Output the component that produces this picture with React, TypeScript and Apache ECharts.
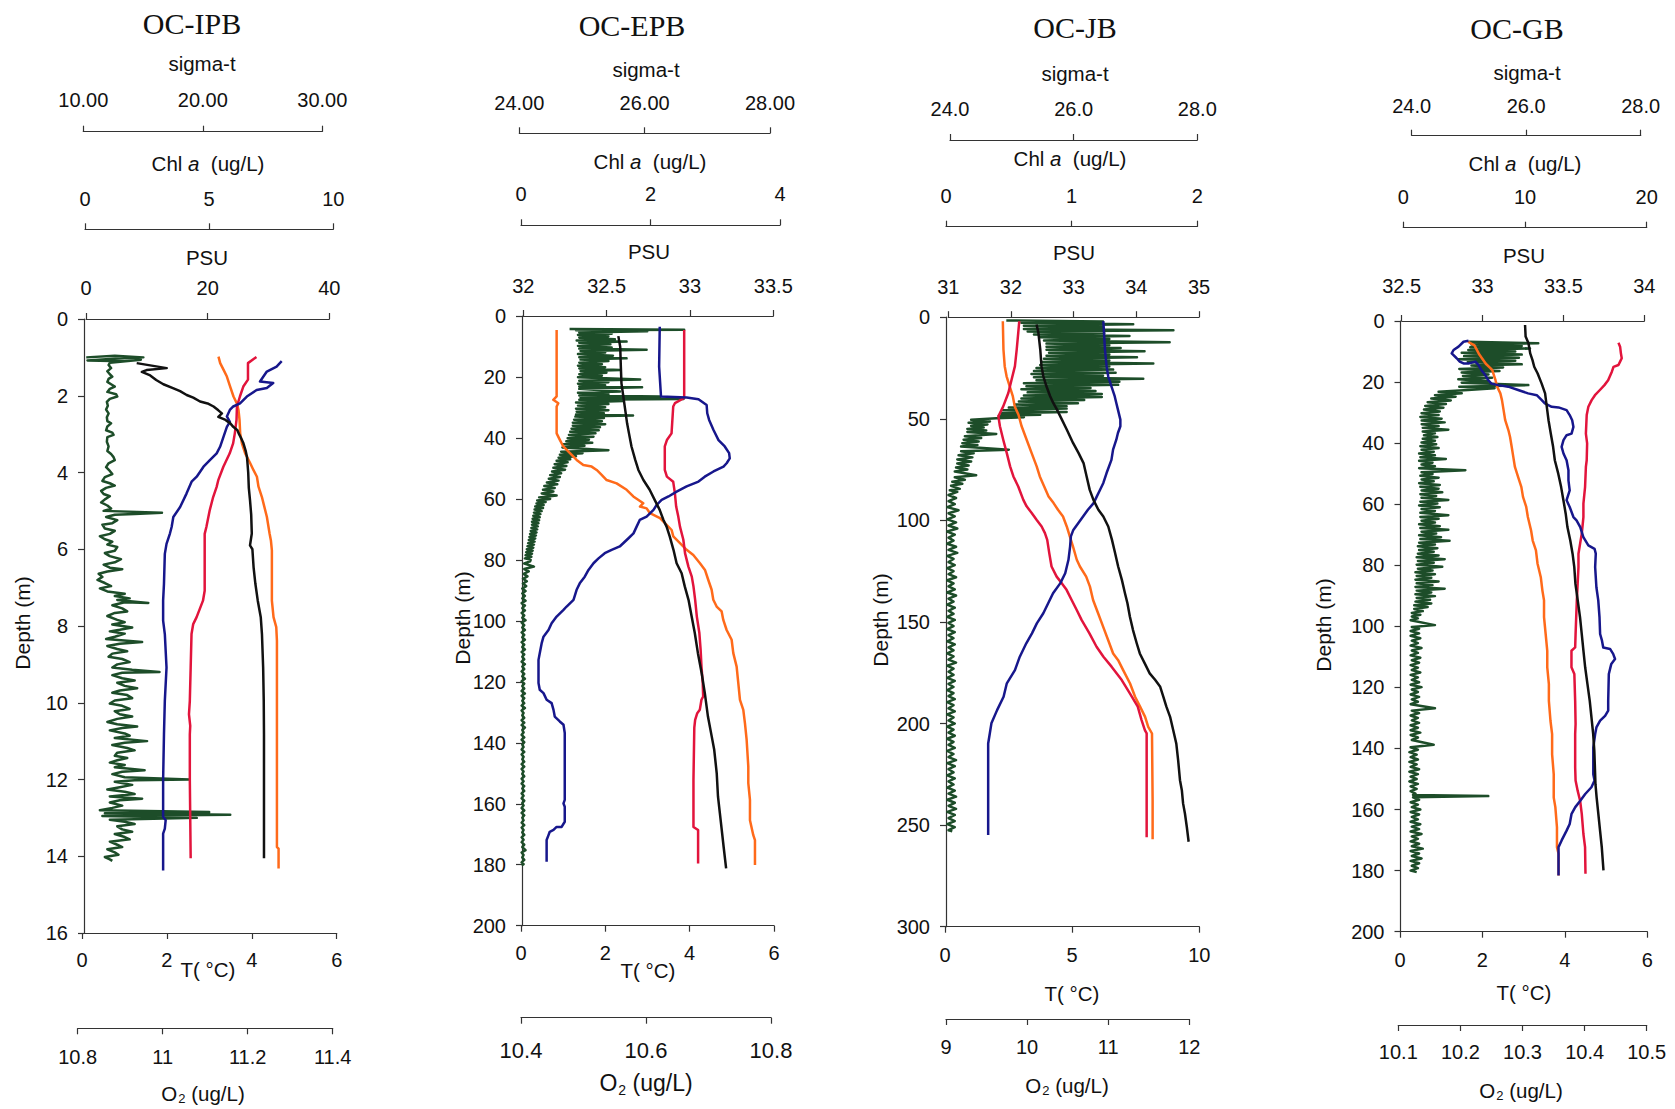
import React, { useEffect, useRef } from 'react';
import * as echarts from 'echarts';

type P = [number, number];

// Each profile is a list of [value, depth (m)] pairs, in cast order.

// ---------- OC-IPB ----------
const ipbSigmaT: P[] = [[14.47,1.15],[16.98,1.28],[15.3,1.33],[14.9,1.38],[15.6,1.47],[16.1,1.59],[16.7,1.7],[17.5,1.8],[18.1,1.88],[18.65,1.98],[19.2,2.05],[19.77,2.15],[20.4,2.2],[20.9,2.28],[21.3,2.38],[21.6,2.46],[21.3,2.55],[21.9,2.63],[22.3,2.72],[22.55,2.81],[22.9,2.9],[23.0,2.98],[23.2,3.1],[23.4,3.24],[23.6,3.45],[23.7,3.6],[23.8,4.0],[23.85,4.4],[23.95,4.72],[24.05,5.1],[24.1,5.59],[23.95,5.9],[24.15,6.0],[24.25,6.47],[24.4,6.9],[24.6,7.34],[24.85,7.77],[24.95,8.21],[25.05,9.08],[25.1,9.95],[25.12,10.82],[25.12,11.69],[25.12,12.5],[25.12,14.05]];
const ipbTemp: P[] = [[4.11,0.99],[3.91,1.15],[3.91,1.58],[3.8,1.76],[3.72,2.02],[3.65,2.28],[3.64,2.63],[3.6,2.98],[3.56,3.24],[3.48,3.5],[3.33,3.85],[3.21,4.2],[3.17,4.38],[3.09,4.64],[3.01,4.98],[2.93,5.42],[2.89,5.6],[2.89,7.08],[2.85,7.34],[2.7,7.77],[2.62,7.95],[2.58,8.21],[2.56,9.08],[2.54,9.95],[2.52,10.3],[2.55,10.6],[2.54,10.82],[2.54,12.0],[2.56,14.05]];
const ipbSalinity: P[] = [[21.78,0.98],[22.06,1.15],[22.6,1.32],[23.16,1.5],[23.7,1.76],[24.25,2.02],[24.8,2.2],[25.07,2.37],[25.24,2.63],[25.35,2.98],[25.63,3.24],[26.17,3.5],[27.0,3.76],[27.54,3.94],[28.1,4.11],[28.36,4.37],[28.92,4.64],[29.19,4.81],[29.74,5.16],[30.18,5.59],[30.4,5.77],[30.56,6.03],[30.56,7.34],[30.83,7.77],[31.28,8.03],[31.39,8.38],[31.39,13.76],[31.66,13.8],[31.66,14.32]];
const ipbOxygen: P[] = [[11.28,1.1],[11.268,1.24],[11.245,1.37],[11.229,1.63],[11.26,1.67],[11.245,1.8],[11.221,1.85],[11.198,2.02],[11.182,2.2],[11.166,2.28],[11.158,2.37],[11.151,2.54],[11.158,2.68],[11.151,2.81],[11.143,3.07],[11.135,3.33],[11.127,3.5],[11.111,3.68],[11.096,3.85],[11.08,4.11],[11.068,4.24],[11.056,4.55],[11.041,4.9],[11.025,5.16],[11.021,5.42],[11.017,5.59],[11.009,5.86],[11.005,6.12],[11.003,6.9],[11.001,7.34],[11.001,7.86],[11.005,8.21],[11.009,9.08],[11.005,9.95],[11.003,10.82],[11.001,12.0],[11.001,12.97],[11.007,13.06],[11.005,13.28],[11.001,13.41],[11.001,14.37]];
const ipbChl: P[] = [[0.05,1.0],[1.2,0.96],[2.35,1.0],[1.0,1.04],[0.1,1.08],[1.6,1.1],[2.25,1.06],[1.0,1.14],[0.95,1.2],[1.05,1.28],[0.9,1.36],[1.0,1.44],[1.1,1.5],[0.95,1.56],[0.9,1.64],[1.05,1.7],[1.2,1.76],[1.0,1.82],[0.9,1.9],[1.25,1.96],[1.3,2.02],[1.0,2.08],[0.88,2.16],[0.92,2.26],[0.85,2.36],[0.95,2.46],[0.88,2.56],[0.9,2.66],[1.05,2.72],[0.9,2.8],[0.85,2.9],[1.1,2.96],[1.15,3.02],[0.9,3.08],[0.88,3.2],[0.95,3.32],[0.9,3.44],[1.05,3.52],[1.15,3.6],[1.2,3.68],[0.95,3.76],[0.85,3.86],[1.0,3.96],[1.1,4.04],[0.8,4.12],[0.7,4.22],[1.0,4.28],[1.2,4.34],[0.85,4.4],[0.65,4.48],[0.75,4.56],[1.0,4.62],[0.8,4.7],[0.65,4.78],[0.9,4.86],[1.05,4.94],[0.75,5.0],[3.1,5.05],[2.0,5.08],[1.2,5.1],[0.85,5.16],[1.3,5.24],[1.1,5.32],[0.7,5.36],[0.8,5.46],[1.2,5.52],[1.0,5.6],[0.6,5.66],[0.8,5.74],[1.1,5.8],[0.9,5.88],[1.3,5.94],[1.2,6.04],[0.8,6.1],[1.0,6.18],[1.45,6.26],[1.2,6.34],[0.75,6.4],[1.0,6.48],[1.5,6.52],[0.9,6.58],[0.55,6.64],[0.7,6.72],[0.5,6.8],[0.8,6.88],[1.05,6.96],[0.6,7.02],[0.9,7.1],[1.6,7.16],[1.2,7.22],[1.8,7.28],[1.3,7.32],[2.55,7.4],[1.6,7.38],[1.1,7.46],[1.5,7.54],[1.7,7.62],[1.2,7.66],[0.9,7.74],[1.3,7.84],[1.6,7.9],[1.1,7.96],[1.9,8.04],[1.4,8.1],[1.0,8.14],[1.6,8.2],[1.2,8.28],[0.85,8.34],[2.3,8.42],[1.4,8.46],[0.9,8.52],[1.3,8.6],[1.7,8.66],[1.1,8.72],[0.95,8.8],[1.5,8.86],[1.8,8.94],[1.3,9.0],[1.1,9.08],[1.9,9.14],[3.0,9.2],[1.5,9.22],[1.1,9.28],[1.5,9.36],[2.0,9.42],[1.3,9.48],[1.6,9.56],[2.1,9.62],[1.4,9.68],[1.1,9.74],[1.7,9.8],[1.9,9.88],[1.2,9.94],[1.0,10.02],[1.5,10.08],[1.8,10.16],[1.2,10.22],[1.4,10.3],[1.9,10.36],[1.3,10.42],[0.9,10.5],[1.3,10.56],[2.1,10.62],[1.5,10.66],[1.0,10.72],[1.6,10.8],[1.8,10.86],[1.2,10.92],[2.5,11.0],[1.6,11.04],[1.1,11.1],[1.7,11.18],[2.0,11.24],[1.3,11.3],[1.2,11.38],[1.7,11.44],[1.3,11.5],[1.0,11.56],[1.6,11.62],[1.2,11.68],[2.4,11.76],[1.5,11.8],[1.1,11.86],[1.6,11.94],[4.2,12.0],[2.0,12.02],[1.2,12.06],[1.9,12.14],[1.4,12.2],[0.9,12.26],[1.6,12.32],[2.0,12.38],[1.0,12.44],[2.3,12.5],[1.4,12.54],[1.0,12.6],[1.5,12.68],[1.1,12.74],[0.6,12.8],[5.0,12.85],[0.8,12.88],[5.85,12.92],[0.7,12.95],[4.5,13.0],[1.0,13.05],[1.6,13.1],[2.0,13.16],[1.3,13.22],[1.5,13.3],[1.9,13.36],[1.2,13.42],[1.6,13.5],[1.8,13.56],[1.0,13.62],[1.3,13.7],[1.5,13.76],[0.9,13.82],[1.2,13.9],[1.35,13.96],[0.8,14.02],[1.0,14.08],[1.1,14.12]];

// ---------- OC-EPB ----------
const epbSigmaT: P[] = [[25.58,6.6],[25.61,10.1],[25.62,16.6],[25.63,22.1],[25.66,26.4],[25.69,30.8],[25.72,35.2],[25.75,38.5],[25.79,42.8],[25.85,47.2],[25.9,50.5],[25.98,53.8],[26.08,57.0],[26.16,60.3],[26.24,63.6],[26.3,66.9],[26.35,69.1],[26.4,72.3],[26.46,76.7],[26.51,81.1],[26.59,84.4],[26.64,88.7],[26.7,93.1],[26.75,98.6],[26.8,104],[26.85,110.6],[26.91,117.2],[26.96,123.7],[27.01,131.4],[27.07,137.9],[27.11,142.3],[27.15,150],[27.17,157.6],[27.2,163.1],[27.23,168.6],[27.26,174.1],[27.3,181.2]];
const epbTemp: P[] = [[3.87,4.6],[3.87,26.9],[3.65,28.6],[3.61,29.7],[3.57,38.5],[3.46,40.7],[3.41,42.8],[3.41,50.5],[3.46,52.7],[3.61,54.4],[3.65,58.2],[3.68,62.5],[3.73,65.8],[3.77,69.1],[3.85,73.4],[3.89,77.8],[3.97,82.2],[4.05,85.5],[4.09,88.7],[4.13,93.1],[4.17,98.6],[4.23,104],[4.26,109.5],[4.28,115],[4.31,120.4],[4.32,124.8],[4.28,125.9],[4.24,129.2],[4.18,130.3],[4.13,132.5],[4.11,135],[4.09,152],[4.09,167.6],[4.2,168.6],[4.2,179.6]];
const epbSalinity: P[] = [[32.2,4.6],[32.2,26.4],[32.18,27.5],[32.21,28.6],[32.2,29.7],[32.2,38.5],[32.22,40.7],[32.24,42.8],[32.28,45.0],[32.32,47.2],[32.36,48.9],[32.41,49.4],[32.44,50.5],[32.47,52.1],[32.5,53.8],[32.56,54.9],[32.62,57.0],[32.66,59.2],[32.72,61.4],[32.7,62.5],[32.74,63.1],[32.76,64.7],[32.82,66.3],[32.86,68.5],[32.89,70.2],[32.9,72.3],[32.94,74.5],[32.98,76.7],[33.02,78.4],[33.06,81.1],[33.09,83.3],[33.11,86.6],[33.13,89.8],[33.14,93.1],[33.16,95.3],[33.19,96.9],[33.2,99.7],[33.22,103],[33.25,106.2],[33.26,110.6],[33.28,115],[33.29,120.4],[33.3,125.9],[33.32,129.2],[33.33,133.6],[33.34,139],[33.35,147.8],[33.35,153.2],[33.36,158.7],[33.36,165.4],[33.38,170.3],[33.39,171.9],[33.39,180.1]];
const epbOxygen: P[] = [[10.622,3.5],[10.621,16.6],[10.624,26.4],[10.665,26.7],[10.684,27.3],[10.697,29.2],[10.698,31.9],[10.701,34.1],[10.708,37.4],[10.716,40.7],[10.726,42.8],[10.733,45.0],[10.734,46.7],[10.729,48.3],[10.724,49.4],[10.708,51.0],[10.694,52.7],[10.684,54.3],[10.665,55.9],[10.649,57.6],[10.636,59.2],[10.625,60.3],[10.617,62.0],[10.612,63.6],[10.601,65.8],[10.59,66.9],[10.585,69.1],[10.58,71.3],[10.572,72.9],[10.558,75.6],[10.545,76.7],[10.534,77.8],[10.524,79.5],[10.516,81.1],[10.508,83.3],[10.502,85.5],[10.494,87.7],[10.489,89.8],[10.484,93.1],[10.473,95.3],[10.468,96.4],[10.457,98.6],[10.449,100.8],[10.444,103.0],[10.436,105.2],[10.433,107.4],[10.43,110.6],[10.428,112.8],[10.428,120.4],[10.43,122.6],[10.436,123.7],[10.441,125.9],[10.449,127.0],[10.452,129.2],[10.454,131.4],[10.462,133.0],[10.468,134.1],[10.47,136.8],[10.47,158.7],[10.468,159.9],[10.47,161.0],[10.47,165.9],[10.465,167.6],[10.457,167.6],[10.452,168.6],[10.446,169.2],[10.444,170.3],[10.441,171.9],[10.441,179.0]];
const epbChl: P[] = [[0.75,4.3],[2.52,4.5],[0.85,4.7],[1.95,5.0],[0.9,5.4],[1.4,5.8],[0.88,6.2],[1.35,6.7],[0.9,7.1],[1.45,7.6],[0.86,8.0],[1.63,8.4],[0.9,8.8],[1.38,9.3],[0.88,9.8],[1.4,10.3],[0.9,10.7],[1.94,11.1],[0.92,11.5],[1.3,12.0],[0.88,12.5],[1.42,13.0],[0.9,13.5],[1.63,13.9],[0.92,14.3],[1.35,14.8],[0.9,15.3],[1.25,15.8],[0.88,16.3],[1.3,16.8],[0.9,17.2],[1.53,17.7],[0.92,18.1],[1.32,18.6],[0.9,19.1],[1.25,19.6],[0.88,20.1],[1.84,20.8],[0.9,21.2],[1.35,21.7],[0.88,22.2],[1.3,22.7],[0.9,23.1],[1.87,23.4],[0.9,23.9],[1.53,24.8],[0.88,25.2],[1.35,25.7],[0.9,26.1],[2.15,26.4],[0.92,26.8],[2.51,27.2],[0.9,27.5],[1.58,27.9],[0.85,28.4],[1.35,28.9],[0.88,29.4],[1.3,29.9],[0.85,30.4],[1.35,30.9],[0.86,31.4],[1.28,31.9],[0.85,32.3],[1.73,32.6],[0.84,33.0],[1.28,33.5],[0.82,34.0],[1.25,34.5],[0.8,35.0],[1.3,35.5],[0.8,36.0],[1.22,36.5],[0.78,37.0],[1.2,37.5],[0.76,38.0],[1.15,38.5],[0.74,39.0],[1.12,39.6],[0.72,40.1],[1.05,40.6],[0.7,41.1],[1.1,41.6],[0.66,42.1],[0.98,42.6],[0.64,43.1],[1.35,44.0],[0.62,44.5],[0.95,45.0],[0.6,45.5],[0.85,46.0],[0.58,46.5],[0.76,47.0],[0.55,47.5],[0.72,48.0],[0.52,48.6],[0.7,49.2],[0.5,49.8],[0.68,50.4],[0.48,51.0],[0.62,51.6],[0.45,52.2],[0.6,52.8],[0.43,53.4],[0.58,54.0],[0.4,54.6],[0.56,55.2],[0.36,55.8],[0.52,56.4],[0.34,57.0],[0.5,57.6],[0.32,58.2],[0.55,58.9],[0.28,59.5],[0.45,60.0],[0.25,60.5],[0.38,61.0],[0.24,61.5],[0.35,62.0],[0.22,62.5],[0.34,63.0],[0.21,63.5],[0.32,64.0],[0.2,64.5],[0.3,65.0],[0.19,65.5],[0.29,66.0],[0.18,66.5],[0.28,67.0],[0.17,67.5],[0.27,68.0],[0.17,68.5],[0.26,69.0],[0.16,69.5],[0.25,70.0],[0.15,70.5],[0.24,71.0],[0.14,71.5],[0.23,72.0],[0.13,72.5],[0.22,73.0],[0.12,73.5],[0.21,74.0],[0.11,74.5],[0.2,75.0],[0.1,75.5],[0.19,76.0],[0.09,76.5],[0.18,77.0],[0.08,77.5],[0.17,78.0],[0.07,78.5],[0.16,79.0],[0.06,79.5],[0.15,80.0],[0.14,80.5],[0.05,81.2],[0.2,82.2],[0.05,83.0],[0.12,83.8],[0.04,84.6],[0.1,85.4],[0.03,86.2],[0.09,87.0],[0.03,87.8],[0.08,88.6],[0.02,89.4],[0.07,90.2],[0.02,91.0],[0.06,91.8],[0.02,92.6],[0.07,93.4],[0.01,94.2],[0.06,95.0],[0.02,95.8],[0.06,96.6],[0.01,97.4],[0.05,98.2],[0.02,99.0],[0.07,99.8],[0.01,100.6],[0.05,101.4],[0.02,102.2],[0.06,103.0],[0.01,103.8],[0.05,104.6],[0.02,105.4],[0.06,106.2],[0.01,107.0],[0.05,107.8],[0.02,108.6],[0.06,109.4],[0.01,110.2],[0.05,111.0],[0.02,111.8],[0.05,112.6],[0.01,113.4],[0.06,114.2],[0.02,115.0],[0.05,115.8],[0.01,116.6],[0.05,117.4],[0.02,118.2],[0.06,119.0],[0.01,119.8],[0.05,120.6],[0.02,121.4],[0.05,122.2],[0.01,123.0],[0.06,123.8],[0.01,124.6],[0.05,125.4],[0.02,126.2],[0.05,127.0],[0.01,127.8],[0.06,128.6],[0.01,129.4],[0.04,130.2],[0.02,131.0],[0.05,131.8],[0.01,132.6],[0.05,133.4],[0.01,134.2],[0.06,135.0],[0.02,135.8],[0.04,136.6],[0.01,137.4],[0.05,138.2],[0.01,139.0],[0.05,139.8],[0.02,140.6],[0.04,141.4],[0.01,142.2],[0.05,143.0],[0.01,143.8],[0.04,144.6],[0.02,145.4],[0.05,146.2],[0.01,147.0],[0.05,147.8],[0.01,148.6],[0.04,149.4],[0.02,150.2],[0.05,151.0],[0.01,151.8],[0.04,152.6],[0.01,153.4],[0.05,154.2],[0.02,155.0],[0.05,155.8],[0.01,156.6],[0.04,157.4],[0.01,158.2],[0.05,159.0],[0.02,159.8],[0.04,160.6],[0.01,161.4],[0.05,162.2],[0.01,163.0],[0.05,163.8],[0.02,164.6],[0.04,165.4],[0.01,166.2],[0.05,167.0],[0.01,167.8],[0.04,168.6],[0.02,169.4],[0.05,170.2],[0.01,171.0],[0.04,171.8],[0.01,172.6],[0.05,173.4],[0.02,174.2],[0.07,175.2],[0.01,176.0],[0.04,176.8],[0.02,177.6],[0.05,178.4],[0.01,179.2],[0.04,179.8],[0.01,180.2]];

// ---------- OC-JB ----------
const jbSigmaT: P[] = [[25.4,3.6],[25.43,7.7],[25.46,15.9],[25.48,24.1],[25.51,29.1],[25.56,34.0],[25.62,38.9],[25.67,42.2],[25.73,45.5],[25.81,50.4],[25.89,55.4],[25.99,61.9],[26.08,66.9],[26.16,71.8],[26.21,78.4],[26.26,85.0],[26.32,89.9],[26.4,94.8],[26.48,98.1],[26.56,103],[26.62,109.6],[26.67,116.1],[26.72,122.7],[26.78,129.3],[26.83,135.9],[26.87,140.8],[26.91,147.4],[26.96,154],[27.02,160.5],[27.07,165.5],[27.15,170.4],[27.23,175.3],[27.32,178.6],[27.4,181.9],[27.45,186.8],[27.5,191.7],[27.56,196.7],[27.61,203.2],[27.66,209.8],[27.69,218],[27.72,227.9],[27.75,232.8],[27.77,239.3],[27.8,244.3],[27.83,250.8],[27.86,258.2]];
const jbTemp: P[] = [[2.92,2.0],[2.88,7.7],[2.82,15.9],[2.75,24.1],[2.62,30.7],[2.49,37.3],[2.29,43.9],[2.1,48.8],[2.16,53.7],[2.29,60.3],[2.43,66.9],[2.56,73.4],[2.69,78.4],[2.88,83.3],[3.08,89.9],[3.21,93.1],[3.41,96.4],[3.6,99.7],[3.8,103],[3.93,106.3],[4.02,109.6],[4.1,116.1],[4.19,122.7],[4.39,127.7],[4.59,130.9],[4.78,134.2],[4.98,139.2],[5.18,144.1],[5.37,149],[5.68,155.6],[5.96,162.2],[6.23,167.1],[6.55,172],[6.95,178.6],[7.27,185.2],[7.58,191.7],[7.73,198.3],[7.86,203.2],[7.93,204.8],[7.93,237.7],[7.93,256]];
const jbSalinity: P[] = [[31.87,2.0],[31.88,15.9],[31.9,24.1],[31.93,29.1],[31.98,34.0],[32.03,39.0],[32.06,43.9],[32.12,48.0],[32.17,53.7],[32.25,60.3],[32.33,66.9],[32.41,73.4],[32.46,78.4],[32.53,83.3],[32.6,88.2],[32.68,91.5],[32.75,94.8],[32.83,98.1],[32.89,103],[32.94,108],[32.99,112.9],[33.05,119.4],[33.1,122.7],[33.2,127.7],[33.26,132.6],[33.31,139.2],[33.39,145.7],[33.47,152.3],[33.55,158.9],[33.63,165.5],[33.71,168.8],[33.79,173.7],[33.9,180.3],[33.98,186.8],[34.06,191.7],[34.14,196.7],[34.19,201.6],[34.25,204.9],[34.26,237.7],[34.26,257]];
const jbOxygen: P[] = [[10.94,2.0],[10.96,15.9],[10.98,24.1],[11.0,29.1],[11.04,34.0],[11.08,38.9],[11.1,42.2],[11.12,45.5],[11.15,50.4],[11.15,53.7],[11.12,57.0],[11.1,60.3],[11.06,65.2],[11.04,70.2],[10.98,76.7],[10.94,81.6],[10.9,84.9],[10.86,88.2],[10.82,91.5],[10.75,94.8],[10.69,98.1],[10.63,101.4],[10.57,104.7],[10.54,107.9],[10.53,112.9],[10.51,119.4],[10.47,126],[10.41,130.9],[10.32,135.9],[10.26,140.8],[10.2,145.7],[10.12,150.7],[10.06,155.6],[9.99,160.5],[9.91,167.1],[9.85,173.7],[9.75,180.2],[9.71,186.8],[9.63,193.4],[9.56,199.9],[9.54,204.9],[9.52,209.8],[9.52,237.7],[9.52,254.9]];
const jbChl: P[] = [[0.48,1.6],[1.25,2.1],[0.6,2.7],[1.49,3.5],[0.62,4.2],[1.25,5.0],[0.62,5.8],[1.81,6.4],[0.65,7.0],[1.26,7.8],[0.7,8.5],[1.46,9.2],[0.75,9.9],[1.3,10.7],[0.78,11.5],[1.78,12.3],[0.8,13.0],[1.3,13.8],[0.8,14.5],[1.39,15.2],[0.8,16.0],[1.58,16.7],[0.82,17.5],[1.3,18.3],[0.8,19.0],[1.52,19.7],[0.78,20.5],[1.3,21.3],[0.76,22.0],[1.65,22.8],[0.75,23.5],[1.3,24.3],[0.72,25.0],[1.33,25.8],[0.7,26.5],[1.35,27.3],[0.68,28.0],[1.25,28.8],[0.7,29.5],[1.57,30.3],[0.72,31.0],[1.38,31.8],[0.62,32.5],[1.37,33.3],[0.64,34.0],[1.15,34.8],[0.6,35.5],[1.19,36.3],[0.65,37.0],[1.24,37.8],[0.62,38.5],[1.24,39.3],[0.6,40.0],[1.1,40.8],[0.58,41.5],[1.05,42.3],[0.55,43.0],[0.96,43.8],[0.5,44.5],[0.96,45.0],[0.45,45.8],[0.96,46.6],[0.44,47.3],[0.75,48.0],[0.42,48.5],[0.62,49.2],[0.4,49.7],[0.2,50.5],[0.35,51.3],[0.18,52.0],[0.33,52.8],[0.2,53.5],[0.3,54.3],[0.17,55.0],[0.32,55.8],[0.17,56.5],[0.4,57.5],[0.15,58.6],[0.28,59.5],[0.14,60.3],[0.26,61.2],[0.13,62.0],[0.25,62.9],[0.12,63.7],[0.5,65.2],[0.12,66.0],[0.22,67.0],[0.1,68.0],[0.21,69.0],[0.09,70.0],[0.2,71.0],[0.09,72.0],[0.18,73.0],[0.08,74.0],[0.17,75.0],[0.07,76.0],[0.24,77.8],[0.07,78.8],[0.15,80.0],[0.05,81.0],[0.13,82.0],[0.04,83.0],[0.11,84.5],[0.03,85.2],[0.09,86],[0.02,87.5],[0.08,89],[0.02,90.5],[0.07,92],[0.01,93.5],[0.1,95],[0.02,96.5],[0.07,98],[0.01,99.5],[0.08,101],[0.02,102.5],[0.09,104],[0.01,105.5],[0.07,107],[0.02,108.5],[0.06,110],[0.01,111.5],[0.08,113],[0.02,114.5],[0.09,116],[0.01,117.5],[0.06,119],[0.02,120.5],[0.07,122],[0.01,123.5],[0.06,125],[0.02,126.5],[0.08,128],[0.01,129.5],[0.06,131],[0.02,132.5],[0.07,134],[0.01,135.5],[0.08,137],[0.02,138.5],[0.06,140],[0.01,141.5],[0.07,143],[0.02,144.5],[0.06,146],[0.01,147.5],[0.07,149],[0.02,150.5],[0.06,152],[0.01,153.5],[0.07,155],[0.02,156.5],[0.06,158],[0.01,159.5],[0.07,161],[0.02,162.5],[0.06,164],[0.01,165.5],[0.06,167],[0.02,168.5],[0.08,170],[0.01,171.5],[0.06,173],[0.02,174.5],[0.06,176],[0.01,177.5],[0.07,179],[0.02,180.5],[0.06,182],[0.01,183.5],[0.06,185],[0.02,186.5],[0.07,188],[0.01,189.5],[0.06,191],[0.02,192.5],[0.07,194],[0.01,195.5],[0.06,197],[0.02,198.5],[0.07,200],[0.01,201.5],[0.06,203],[0.02,204.5],[0.07,206],[0.01,207.5],[0.06,209],[0.02,210.5],[0.07,212],[0.01,213.5],[0.06,215],[0.02,216.5],[0.08,218],[0.01,219.5],[0.07,221],[0.02,222.5],[0.06,224],[0.01,225.5],[0.07,227],[0.02,228.5],[0.06,230],[0.01,231.5],[0.07,233],[0.02,234.5],[0.08,236],[0.01,237.5],[0.07,239],[0.02,240.5],[0.08,242],[0.01,243.5],[0.07,245],[0.02,246.5],[0.07,248],[0.01,249.5],[0.07,251],[0.02,252.5],[0.05,253]];

// ---------- OC-GB ----------
const gbSigmaT: P[] = [[25.98,1.3],[25.99,5.1],[26.04,7.3],[26.07,10.6],[26.11,12.8],[26.14,15],[26.2,17.2],[26.27,20.5],[26.33,23.7],[26.36,28.1],[26.39,32.5],[26.43,36.9],[26.47,41.2],[26.5,45.6],[26.56,50],[26.61,54.4],[26.65,58.7],[26.69,63.1],[26.72,67.5],[26.77,71.9],[26.81,76.2],[26.84,80.6],[26.86,86.1],[26.9,91.5],[26.94,97],[26.97,102.5],[27.0,108],[27.03,113.4],[27.07,118.9],[27.11,124.4],[27.14,129.8],[27.17,135.3],[27.19,140.8],[27.2,146.2],[27.21,151.7],[27.23,156],[27.26,161.4],[27.29,166.9],[27.32,172.3],[27.35,179.9]];
const gbTemp: P[] = [[5.3,7.1],[5.34,8.4],[5.36,10.6],[5.38,12.2],[5.34,13.3],[5.3,14.4],[5.18,15.0],[5.14,16.6],[5.05,19.4],[4.96,21.0],[4.85,22.6],[4.73,24.3],[4.65,25.9],[4.57,28.1],[4.53,30.8],[4.51,36.9],[4.54,40.1],[4.53,45.6],[4.51,47.8],[4.49,54.4],[4.45,59.8],[4.45,64.2],[4.41,69.7],[4.37,72.9],[4.33,76.2],[4.33,80.6],[4.31,86.1],[4.29,91.5],[4.26,102.5],[4.25,106.9],[4.16,108],[4.16,113.4],[4.23,115.6],[4.25,124.4],[4.26,132],[4.25,135.3],[4.25,146.2],[4.26,150.5],[4.31,153.8],[4.37,157.1],[4.41,161.4],[4.45,168],[4.49,172.3],[4.5,181]];
const gbSalinity: P[] = [[32.91,6.8],[32.95,8],[32.98,11],[33.02,14],[33.05,15.5],[33.06,16.1],[33.07,17.7],[33.08,19.4],[33.09,21.5],[33.11,23.7],[33.12,25.9],[33.13,29.2],[33.14,32.5],[33.16,35.8],[33.17,38.0],[33.18,41.2],[33.19,44.5],[33.2,47.8],[33.22,51.1],[33.24,54.4],[33.25,57.6],[33.27,60.9],[33.28,64.2],[33.3,68.6],[33.31,71.9],[33.33,75.1],[33.34,79.5],[33.36,83.9],[33.37,88.3],[33.38,91.5],[33.38,97],[33.39,102.5],[33.4,108],[33.4,113.4],[33.41,118.9],[33.41,124.4],[33.42,131],[33.43,135.3],[33.43,141.9],[33.44,148.4],[33.44,156.1],[33.45,159.2],[33.46,165.8],[33.46,172.3],[33.47,174.5],[33.47,181.6]];
const gbOxygen: P[] = [[10.213,6.5],[10.205,6.8],[10.197,8.4],[10.189,9.5],[10.186,10.6],[10.194,12.2],[10.199,13.3],[10.205,13.9],[10.213,13.9],[10.224,13.3],[10.229,14.4],[10.234,16.1],[10.24,17.7],[10.245,19.4],[10.25,20.5],[10.261,21.0],[10.277,21.5],[10.293,22.6],[10.309,23.7],[10.323,24.3],[10.331,25.9],[10.336,27],[10.347,28.1],[10.358,28.3],[10.371,29.2],[10.376,30.8],[10.38,32.5],[10.382,34.7],[10.379,36.9],[10.371,37.4],[10.366,39],[10.363,41.2],[10.366,43.4],[10.371,45.6],[10.374,48.9],[10.374,52.2],[10.376,55.5],[10.371,58.7],[10.376,60.9],[10.382,64.2],[10.387,65.3],[10.393,67.5],[10.398,70.8],[10.406,73.5],[10.416,74.6],[10.418,76.2],[10.417,80.6],[10.419,87.2],[10.422,91.5],[10.424,97],[10.425,102.5],[10.428,104.7],[10.43,106.9],[10.441,107.4],[10.446,109],[10.449,110.7],[10.443,112.3],[10.439,115.6],[10.438,124.4],[10.438,127.6],[10.433,129.3],[10.425,130.9],[10.419,133.1],[10.417,135.3],[10.414,139.7],[10.414,148.4],[10.416,150.5],[10.411,152.7],[10.401,154.9],[10.393,157.1],[10.385,159.2],[10.379,161.4],[10.376,164.7],[10.371,166.9],[10.363,170.1],[10.358,172.3],[10.358,181.6]];
const gbChl: P[] = [[5.34,6.8],[11.09,7.3],[5.6,7.7],[9.73,8.2],[5.5,8.6],[10.41,9.0],[5.34,9.5],[9.2,10.0],[4.8,10.4],[9.73,11.0],[5.0,11.5],[9.5,12.0],[4.52,12.5],[9.2,13.0],[5.3,13.4],[9.73,14.2],[5.6,14.6],[8.2,15.2],[4.6,15.7],[7.9,16.4],[4.8,16.9],[7.0,17.5],[4.9,18.0],[7.3,18.6],[4.52,19.1],[7.0,19.7],[4.8,20.2],[10.27,21.0],[4.6,21.5],[7.5,22.0],[5.3,22.6],[2.9,23.2],[4.8,23.7],[2.6,24.3],[4.3,24.8],[2.3,25.4],[3.9,26.0],[2.0,26.6],[3.5,27.2],[1.8,27.8],[3.3,28.4],[1.7,29.0],[3.0,29.6],[1.5,30.2],[2.9,30.8],[1.4,31.4],[3.15,32.0],[1.51,32.6],[3.4,33.2],[1.51,33.8],[2.9,34.4],[1.6,35.0],[3.7,35.6],[1.6,36.2],[2.6,36.8],[1.7,37.4],[2.8,38.0],[1.6,38.6],[2.6,39.2],[1.5,39.8],[2.7,40.4],[1.4,41.0],[2.9,41.6],[1.5,42.2],[2.5,42.8],[1.3,43.4],[2.6,44.0],[1.4,44.6],[3.5,45.2],[1.3,45.8],[2.4,46.4],[1.5,47.0],[2.6,47.6],[1.3,48.2],[5.1,48.9],[1.5,49.5],[2.4,50.1],[1.4,50.7],[2.9,51.3],[1.5,51.9],[2.5,52.5],[1.3,53.1],[3.0,53.7],[1.4,54.3],[2.9,54.9],[1.5,55.5],[3.2,56.1],[1.4,56.7],[2.7,57.3],[1.5,57.9],[3.7,58.6],[1.4,59.2],[2.8,59.8],[1.3,60.4],[3.0,61.0],[1.5,61.6],[2.6,62.2],[1.4,62.8],[3.7,63.6],[1.4,64.2],[2.9,64.8],[1.5,65.4],[2.6,66.0],[1.3,66.6],[3.0,67.2],[1.4,67.8],[3.7,68.4],[1.5,69.0],[2.7,69.6],[1.3,70.2],[3.1,70.8],[1.4,71.4],[3.8,72.0],[1.3,72.6],[2.6,73.2],[1.2,73.8],[2.8,74.4],[1.3,75.0],[2.5,75.6],[1.2,76.2],[2.9,76.8],[1.1,77.4],[3.4,78.0],[1.2,78.6],[2.5,79.2],[1.1,79.8],[3.2,80.5],[1.2,81.1],[2.4,81.7],[1.0,82.3],[2.6,82.9],[1.1,83.5],[2.3,84.1],[1.0,84.7],[2.9,85.3],[1.1,85.9],[2.4,86.5],[1.0,87.1],[3.4,87.7],[1.1,88.3],[2.3,88.9],[1.0,89.5],[2.6,90.1],[1.1,90.7],[2.2,91.3],[1.0,91.9],[2.3,92.5],[0.9,93.1],[2.0,93.7],[0.9,94.3],[1.6,95.0],[0.7,95.6],[1.4,96.2],[0.7,96.8],[1.2,97.4],[0.6,98.0],[2.6,99.6],[0.7,100.2],[1.3,100.8],[0.6,101.5],[1.3,102.3],[0.6,103.1],[1.4,103.9],[0.7,104.7],[1.2,105.5],[0.6,106.3],[1.5,107.1],[0.7,107.9],[1.2,108.7],[0.6,109.5],[1.4,110.3],[0.7,111.1],[1.3,111.9],[0.6,112.7],[1.2,113.5],[0.7,114.3],[1.4,115.1],[0.6,115.9],[1.2,116.7],[0.7,117.5],[1.3,118.3],[0.6,119.1],[1.5,119.9],[0.7,120.7],[1.2,121.5],[0.6,122.3],[1.3,123.1],[0.7,123.9],[1.2,124.7],[0.6,125.5],[2.6,126.8],[0.7,127.6],[1.3,128.4],[0.6,129.2],[1.2,130.0],[0.7,130.8],[1.3,131.6],[0.6,132.4],[1.2,133.2],[0.6,134.0],[1.4,134.8],[0.6,135.6],[1.2,136.4],[0.7,137.2],[2.5,138.8],[0.6,139.6],[1.2,140.4],[0.5,141.2],[1.1,142.0],[0.6,142.8],[1.2,143.6],[0.5,144.4],[1.1,145.2],[0.6,146.0],[1.3,146.8],[0.5,147.6],[1.2,148.4],[0.6,149.2],[1.1,150.0],[0.5,150.8],[1.2,151.6],[0.6,152.4],[1.1,153.2],[0.6,154.0],[1.0,154.8],[0.8,155.2],[6.98,155.6],[0.8,156.0],[1.3,156.8],[0.6,157.6],[1.2,158.4],[0.7,159.2],[1.4,160.0],[0.6,160.8],[1.3,161.6],[0.7,162.4],[1.2,163.2],[0.6,164.0],[1.4,164.8],[0.7,165.6],[1.3,166.4],[0.6,167.2],[1.5,168.0],[0.7,168.8],[1.2,169.6],[0.6,170.4],[1.3,171.2],[0.7,172.0],[1.6,172.8],[0.6,173.6],[1.3,174.4],[0.7,175.2],[1.5,176.0],[0.6,176.8],[1.3,177.6],[0.7,178.4],[1.2,179.2],[0.6,180.0],[1.1,180.5]];

// ---------- layout & styling ----------
type AxisKey = 'sig' | 'chl' | 'psu' | 't' | 'o2';
interface AxisLayout { min: number; max: number; interval: number; x0: number; x1: number; y: number; labelY: number; digits?: number; fontSize?: number; }
interface Panel {
  title: string; titleX: number; titleY: number;
  top: number; bottom: number; yAxisX: number; depthMax: number; depthStep: number;
  axes: Record<AxisKey, AxisLayout>;
  names: Record<AxisKey | 'depth', [number, number]>;
  o2NameSize?: number;
  data: Record<AxisKey, P[]>;
}

const SANS = '"Liberation Sans", Arial, Helvetica, sans-serif';
const SERIF = '"Liberation Serif", "Times New Roman", serif';
const INK = '#111111';
const AXIS_COLOR = '#333333';
const LINE_COLORS: Record<AxisKey, string> = { sig: '#111111', chl: '#1d4d29', psu: '#ff6a1a', t: '#e2143c', o2: '#17178c' };
const DRAW_ORDER: AxisKey[] = ['chl', 'psu', 't', 'o2', 'sig'];

const panels: Panel[] = [
  {
    title: 'OC-IPB', titleX: 192, titleY: 23, top: 319, bottom: 933, yAxisX: 84, depthMax: 16, depthStep: 2,
    axes: {
      sig: { min: 10, max: 30, interval: 10, x0: 83.3, x1: 322.3, y: 131.7, labelY: 100, digits: 2 },
      chl: { min: 0, max: 10, interval: 5, x0: 85, x1: 333.3, y: 229.3, labelY: 199.3 },
      psu: { min: 0, max: 40, interval: 20, x0: 86, x1: 329.3, y: 319, labelY: 288 },
      t: { min: 0, max: 6, interval: 2, x0: 82, x1: 336.7, y: 933, labelY: 960 },
      o2: { min: 10.8, max: 11.4, interval: 0.2, x0: 77.7, x1: 332.7, y: 1028.3, labelY: 1057 },
    },
    names: { sig: [202, 63], chl: [208, 163], psu: [207, 257], t: [208, 969], o2: [203, 1093], depth: [22, 623] },
    data: { sig: ipbSigmaT, chl: ipbChl, psu: ipbSalinity, t: ipbTemp, o2: ipbOxygen },
  },
  {
    title: 'OC-EPB', titleX: 632, titleY: 25, top: 316, bottom: 925.7, yAxisX: 522, depthMax: 200, depthStep: 20,
    axes: {
      sig: { min: 24, max: 28, interval: 2, x0: 519.3, x1: 770, y: 133.3, labelY: 103.3, digits: 2 },
      chl: { min: 0, max: 4, interval: 2, x0: 521, x1: 780, y: 225.3, labelY: 194.3 },
      psu: { min: 32, max: 33.5, interval: 0.5, x0: 523.3, x1: 773.3, y: 316, labelY: 285.7 },
      t: { min: 0, max: 6, interval: 2, x0: 521, x1: 774, y: 925.7, labelY: 953.3 },
      o2: { min: 10.4, max: 10.8, interval: 0.2, x0: 521, x1: 771, y: 1017.7, labelY: 1050.7, fontSize: 22 },
    },
    names: { sig: [646, 69], chl: [650, 161], psu: [649, 251], t: [648, 970], o2: [646, 1083], depth: [462, 618] },
    o2NameSize: 23,
    data: { sig: epbSigmaT, chl: epbChl, psu: epbSalinity, t: epbTemp, o2: epbOxygen },
  },
  {
    title: 'OC-JB', titleX: 1075, titleY: 27, top: 317.2, bottom: 926.7, yAxisX: 946, depthMax: 300, depthStep: 50,
    axes: {
      sig: { min: 24, max: 28, interval: 2, x0: 950, x1: 1197.3, y: 140, labelY: 109.3, digits: 1 },
      chl: { min: 0, max: 2, interval: 1, x0: 946, x1: 1197.3, y: 226.7, labelY: 195.7 },
      psu: { min: 31, max: 35, interval: 1, x0: 948.3, x1: 1199, y: 317.2, labelY: 286.7 },
      t: { min: 0, max: 10, interval: 5, x0: 945, x1: 1199.3, y: 926.7, labelY: 955 },
      o2: { min: 9, max: 12, interval: 1, x0: 946, x1: 1189.3, y: 1019, labelY: 1046.7 },
    },
    names: { sig: [1075, 73], chl: [1070, 158], psu: [1074, 252], t: [1072, 993], o2: [1067, 1085], depth: [880, 620] },
    data: { sig: jbSigmaT, chl: jbChl, psu: jbSalinity, t: jbTemp, o2: jbOxygen },
  },
  {
    title: 'OC-GB', titleX: 1517, titleY: 28, top: 321, bottom: 931.7, yAxisX: 1400.5, depthMax: 200, depthStep: 20,
    axes: {
      sig: { min: 24, max: 28, interval: 2, x0: 1411.7, x1: 1640.7, y: 135.7, labelY: 106, digits: 1 },
      chl: { min: 0, max: 20, interval: 10, x0: 1403.3, x1: 1646.7, y: 227.7, labelY: 197.3 },
      psu: { min: 32.5, max: 34, interval: 0.5, x0: 1401.7, x1: 1644.3, y: 321, labelY: 285.7 },
      t: { min: 0, max: 6, interval: 2, x0: 1400, x1: 1647.3, y: 931.7, labelY: 960 },
      o2: { min: 10.1, max: 10.5, interval: 0.1, x0: 1398.3, x1: 1646.7, y: 1025, labelY: 1051.7 },
    },
    names: { sig: [1527, 72], chl: [1525, 163], psu: [1524, 255], t: [1524, 992], o2: [1521, 1090], depth: [1323, 625] },
    data: { sig: gbSigmaT, chl: gbChl, psu: gbSalinity, t: gbTemp, o2: gbOxygen },
  },
];

const TICK_FONT = 20;
const NAME_FONT = 20.5;
const TRACE_WIDTH = 2.5;

function centeredText(x: number, y: number, text: string, size: number, family = SANS, rotation = 0) {
  return {
    type: 'text', x, y, rotation, silent: true,
    style: { text, fontSize: size, fontFamily: family, fill: INK, align: 'center', verticalAlign: 'middle' },
  };
}

function richText(x: number, y: number, text: string, rich: Record<string, any>) {
  return {
    type: 'text', x, y, silent: true,
    style: { text, rich, fill: INK, align: 'center', verticalAlign: 'middle' },
  };
}

function buildOption() {
  const grid: any[] = [];
  const xAxis: any[] = [];
  const yAxis: any[] = [];
  const series: any[] = [];
  const graphic: any[] = [];
  const axisLine = { show: true, onZero: false, lineStyle: { color: AXIS_COLOR, width: 1.2 } };
  const axisTick = { show: true, length: 6, lineStyle: { color: AXIS_COLOR, width: 1.2 } };

  panels.forEach((p) => {
    const h = p.bottom - p.top;
    DRAW_ORDER.forEach((k) => {
      const a = p.axes[k];
      const gi = grid.length;
      const onTop = k === 'sig' || k === 'chl' || k === 'psu';
      const fs = a.fontSize ?? TICK_FONT;
      const axisLabel: any = {
        margin: Math.abs(a.labelY - a.y) - fs / 2,
        fontSize: fs, fontFamily: SANS, color: INK,
        showMinLabel: true, showMaxLabel: true,
      };
      if (a.digits !== undefined) {
        const d = a.digits;
        axisLabel.formatter = (v: number) => v.toFixed(d);
      }
      grid.push({ left: a.x0, top: p.top, width: a.x1 - a.x0, height: h });
      xAxis.push({
        gridIndex: gi, type: 'value', min: a.min, max: a.max, interval: a.interval,
        position: onTop ? 'top' : 'bottom',
        offset: onTop ? p.top - a.y : a.y - p.bottom,
        axisLine, axisTick, axisLabel, splitLine: { show: false },
      });
      yAxis.push({ gridIndex: gi, type: 'value', inverse: true, min: 0, max: p.depthMax, show: false });
      series.push({
        type: 'line', xAxisIndex: gi, yAxisIndex: gi, data: p.data[k],
        showSymbol: false, symbol: 'none', silent: true, animation: false,
        lineStyle: { color: LINE_COLORS[k], width: TRACE_WIDTH, join: 'round' },
        emphasis: { disabled: true },
      });
    });

    // depth axis
    const gi = grid.length;
    grid.push({ left: p.yAxisX, top: p.top, width: 60, height: h });
    xAxis.push({ gridIndex: gi, type: 'value', show: false, min: 0, max: 1 });
    yAxis.push({
      gridIndex: gi, type: 'value', inverse: true, min: 0, max: p.depthMax, interval: p.depthStep,
      position: 'left', axisLine, axisTick, splitLine: { show: false },
      axisLabel: { margin: 16, fontSize: TICK_FONT, fontFamily: SANS, color: INK, showMinLabel: true, showMaxLabel: true },
    });

    // titles and axis names
    graphic.push(centeredText(p.titleX, p.titleY, p.title, 30, SERIF));
    graphic.push(centeredText(p.names.sig[0], p.names.sig[1], 'sigma-t', NAME_FONT));
    graphic.push(richText(p.names.chl[0], p.names.chl[1], '{n|Chl }{i|a}{n|  (ug/L)}', {
      n: { fontSize: NAME_FONT, fontFamily: SANS, fill: INK },
      i: { fontSize: NAME_FONT, fontFamily: SANS, fontStyle: 'italic', fill: INK },
    }));
    graphic.push(centeredText(p.names.psu[0], p.names.psu[1], 'PSU', NAME_FONT));
    graphic.push(centeredText(p.names.t[0], p.names.t[1], 'T( °C)', NAME_FONT));
    const os = p.o2NameSize ?? NAME_FONT;
    graphic.push(richText(p.names.o2[0], p.names.o2[1], '{n|O}{s|2}{n| (ug/L)}', {
      n: { fontSize: os, fontFamily: SANS, fill: INK, lineHeight: os + 4, verticalAlign: 'middle' },
      s: { fontSize: Math.round(os * 0.62), fontFamily: SANS, fill: INK, lineHeight: os + 4, verticalAlign: 'bottom', padding: [0, 0, 0, 1] },
    }));
    graphic.push(centeredText(p.names.depth[0], p.names.depth[1], 'Depth (m)', 21, SANS, Math.PI / 2));
  });

  return {
    animation: false,
    backgroundColor: '#ffffff',
    grid, xAxis, yAxis, series,
    graphic: { elements: graphic },
  };
}

export default function App() {
  const ref = useRef<HTMLDivElement>(null);
  useEffect(() => {
    if (!ref.current) return;
    const chart = echarts.init(ref.current, null, { renderer: 'svg' });
    chart.setOption(buildOption() as any);
    return () => chart.dispose();
  }, []);
  return (
    <div
      ref={ref}
      style={{ position: 'absolute', left: 0, top: 0, width: 1675, height: 1109, background: '#ffffff' }}
    />
  );
}
